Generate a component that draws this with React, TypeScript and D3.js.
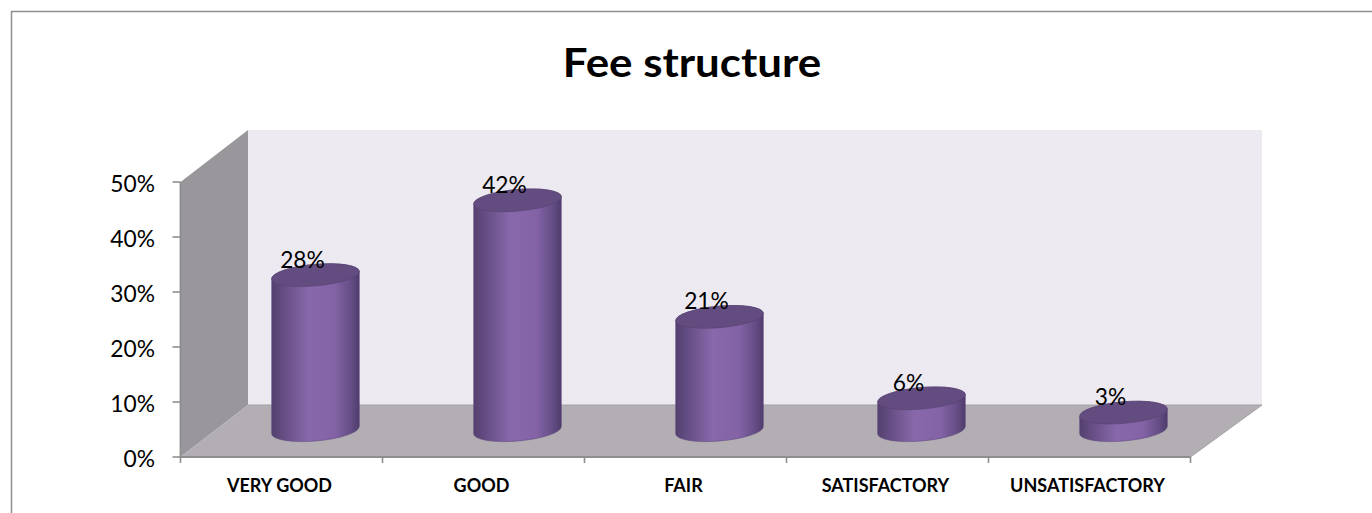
import React from "react";
import * as d3 from "d3";

const categories = ["VERY GOOD", "GOOD", "FAIR", "SATISFACTORY", "UNSATISFACTORY"];
const values = [28.2, 41.8, 20.6, 5.8, 3.2];
const yTicks = [0, 10, 20, 30, 40, 50];
const title = "Fee structure";

const W = 1372, H = 513;
const font = "Lato, 'Open Sans', sans-serif";
const y = d3.scaleLinear().domain([0, 50]).range([457, 182]);
const x = d3.scaleBand().domain(categories).range([180.5, 1190.5]);
const depthX = 67.5, depthY = -52;
const barOffsetX = 34, barOffsetY = -26.8;
const rx = 44, ry = 10.8, rot = -5;
const ex = rx * Math.cos((rot * Math.PI) / 180);
const ey = rx * Math.sin((rot * Math.PI) / 180);
const axisCol = "#8e8e8e";
const squeeze = 0.95;

export default function App() {
  const x0 = x.range()[0], x1 = x.range()[1];
  const yb = y(0), yt = y(50);
  const ticksX = [...categories.map((c) => x(c) as number), x1];
  return (
    <svg width={W} height={H} style={{ position: "absolute", left: 0, top: 0, display: "block" }}>
      <defs>
        <linearGradient id="cyl" x1="0" x2="1" y1="0" y2="0">
          <stop offset="0" stopColor="#54406f" />
          <stop offset="0.14" stopColor="#654e84" />
          <stop offset="0.42" stopColor="#8868ab" />
          <stop offset="0.72" stopColor="#8363a6" />
          <stop offset="0.9" stopColor="#654e86" />
          <stop offset="1" stopColor="#503c6c" />
        </linearGradient>
      </defs>
      <rect x={0} y={0} width={W} height={H} fill="#fff" />
      <path d={`M11.5,${H + 2} V11.5 H1372`} fill="none" stroke="#8e8e8e" strokeWidth={1.5} />
      <text transform={`translate(692 77) scale(1.07 1)`} textAnchor="middle" fontFamily={font} fontWeight={700} fontSize={41} fill="#000">{title}</text>

      <polygon points={`${x0 + depthX},${yt + depthY} ${x1 + depthX + 4},${yt + depthY} ${x1 + depthX + 4},${yb + depthY} ${x0 + depthX},${yb + depthY}`} fill="#ece9f1" />
      <polygon points={`${x0},${yt} ${x0 + depthX},${yt + depthY} ${x0 + depthX},${yb + depthY} ${x0},${yb}`} fill="#99979b" />
      <polygon points={`${x0},${yb} ${x0 + depthX},${yb + depthY} ${x1 + depthX + 4},${yb + depthY} ${x1},${yb}`} fill="#b3aeb4" />
      <path d={`M${x0 + depthX},${yb + depthY} H${x1 + depthX + 4} L${x1},${yb}`} fill="none" stroke="#a3a1a5" strokeWidth={1} />

      <path d={`M${x0},${yt} V${yb} H${x1}`} fill="none" stroke={axisCol} strokeWidth={1.8} />
      {yTicks.map((t) => (
        <g key={t}>
          <line x1={x0 - 8} x2={x0} y1={y(t)} y2={y(t)} stroke={axisCol} strokeWidth={1.6} />
          <text transform={`translate(155 ${y(t) + 9.5}) scale(${squeeze} 1)`} textAnchor="end" fontFamily={font} fontSize={24} fill="#000">{`${t}%`}</text>
        </g>
      ))}
      {ticksX.map((t, i) => (
        <line key={i} x1={t} x2={t} y1={yb} y2={yb + 6} stroke={axisCol} strokeWidth={1.6} />
      ))}
      {categories.map((c) => (
        <text key={c} x={(x(c) as number) + x.bandwidth() / 2 - 2} y={492} textAnchor="middle" fontFamily={font} fontWeight={700} fontSize={18} fill="#000">{c}</text>
      ))}

      {categories.map((c, i) => {
        const cx = (x(c) as number) + x.bandwidth() / 2 + barOffsetX;
        const top = y(values[i]) + barOffsetY;
        const bot = y(0) + barOffsetY;
        const arc = `${rx} ${ry} ${rot}`;
        const body = `M${cx - ex},${top - ey} L${cx - ex},${bot - ey} A${arc} 0 0 ${cx + ex},${bot + ey} L${cx + ex},${top + ey} A${arc} 0 0 ${cx - ex},${top - ey} Z`;
        return (
          <g key={c}>
            <path d={body} fill="url(#cyl)" stroke="#5b4578" strokeWidth={0.5} />
            <ellipse cx={cx} cy={top} rx={rx} ry={ry} transform={`rotate(${rot} ${cx} ${top})`} fill="#634c7f" stroke="#574270" strokeWidth={0.6} />
            <text transform={`translate(${cx - 13} ${top - 7.5}) scale(${squeeze} 1)`} textAnchor="middle" fontFamily={font} fontSize={24} fill="#000">{`${Math.round(values[i])}%`}</text>
          </g>
        );
      })}
    </svg>
  );
}
